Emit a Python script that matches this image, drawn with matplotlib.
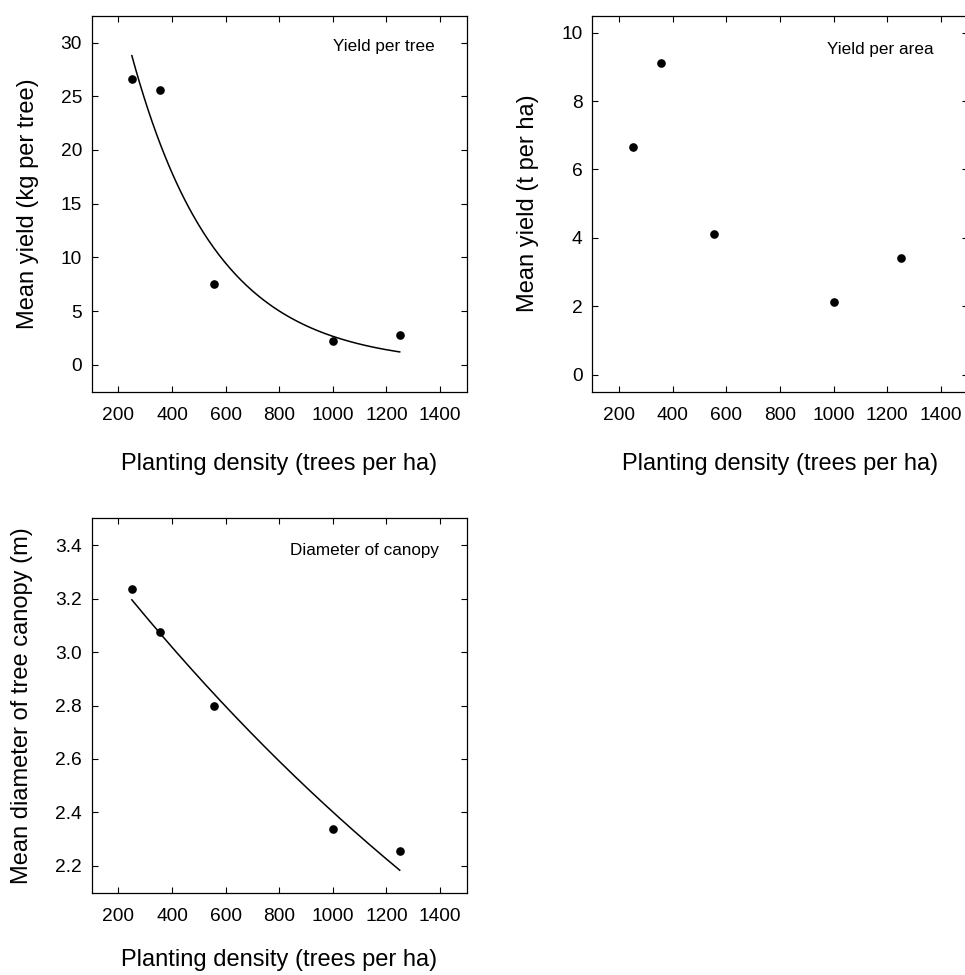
import numpy as np
import matplotlib
matplotlib.use("Agg")
import matplotlib.pyplot as plt

plt.rcParams['font.family'] = ['Liberation Sans', 'DejaVu Sans']

# planting density (trees per ha)
density = [250, 355, 555, 1000, 1250]
# mean yield per tree (kg per tree)
yield_tree = [26.6, 25.6, 7.5, 2.2, 2.8]
# mean yield per area (t per ha)
yield_area = [6.65, 9.12, 4.12, 2.12, 3.40]
# mean diameter of tree canopy (m)
canopy = [3.235, 3.075, 2.80, 2.34, 2.255]

# fitted exponential curves y = a * exp(-b * x)
tree_fit = (63.7, 0.003178)
canopy_fit = (3.514, 0.0003804)
fit_range = (250, 1250)

xticks = [200, 400, 600, 800, 1000, 1200, 1400]
xlabel = "Planting density (trees per ha)"

fig = plt.figure(figsize=(9.65, 9.75), dpi=100)


def style(ax, label_y):
    ax.set_xlim(100, 1500)
    ax.set_xticks(xticks)
    ax.tick_params(direction="in", top=True, right=True, length=4.5, width=0.8,
                   labelsize=13.8, color="black")
    ax.tick_params(axis="x", pad=11)
    ax.tick_params(axis="y", pad=7)
    for s in ax.spines.values():
        s.set_linewidth(0.9)
    ax.text(0.5, label_y, xlabel, transform=ax.transAxes, ha="center",
            va="center", fontsize=17)


def fit_line(ax, p):
    xs = np.linspace(fit_range[0], fit_range[1], 200)
    ax.plot(xs, p[0] * np.exp(-p[1] * xs), color="black", lw=1.1)


# yield per tree
ax1 = fig.add_axes([0.0950, 0.5983, 0.3886, 0.3856])
style(ax1, -0.192)
ax1.set_ylim(-2.5, 32.5)
ax1.set_yticks([0, 5, 10, 15, 20, 25, 30])
fit_line(ax1, tree_fit)
ax1.plot(density, yield_tree, "o", color="black", ms=5.2)
ax1.text(0.9155, 0.9176, "Yield per tree", transform=ax1.transAxes,
         ha="right", va="center", fontsize=12.3)
ax1.text(-0.171, 0.5, "Mean yield (kg per tree)", transform=ax1.transAxes,
         rotation=90, ha="center", va="center", fontsize=17)

# yield per area
ax2 = fig.add_axes([0.6138, 0.5983, 0.3889, 0.3856])
style(ax2, -0.192)
ax2.set_ylim(-0.5, 10.5)
ax2.set_yticks([0, 2, 4, 6, 8, 10])
ax2.plot(density, yield_area, "o", color="black", ms=5.2)
ax2.text(0.9105, 0.9106, "Yield per area", transform=ax2.transAxes,
         ha="right", va="center", fontsize=12.3)
ax2.text(-0.1727, 0.5, "Mean yield (t per ha)", transform=ax2.transAxes,
         rotation=90, ha="center", va="center", fontsize=17)

# canopy diameter
ax3 = fig.add_axes([0.0950, 0.0844, 0.3886, 0.3840])
style(ax3, -0.180)
ax3.set_ylim(2.1, 3.5)
ax3.set_yticks([2.2, 2.4, 2.6, 2.8, 3.0, 3.2, 3.4])
fit_line(ax3, canopy_fit)
ax3.plot(density, canopy, "o", color="black", ms=5.2)
ax3.text(0.926, 0.913, "Diameter of canopy", transform=ax3.transAxes,
         ha="right", va="center", fontsize=12.3)
ax3.text(-0.1845, 0.5, "Mean diameter of tree canopy (m)", transform=ax3.transAxes,
         rotation=90, ha="center", va="center", fontsize=17)

fig.savefig("out.png", dpi=100)
